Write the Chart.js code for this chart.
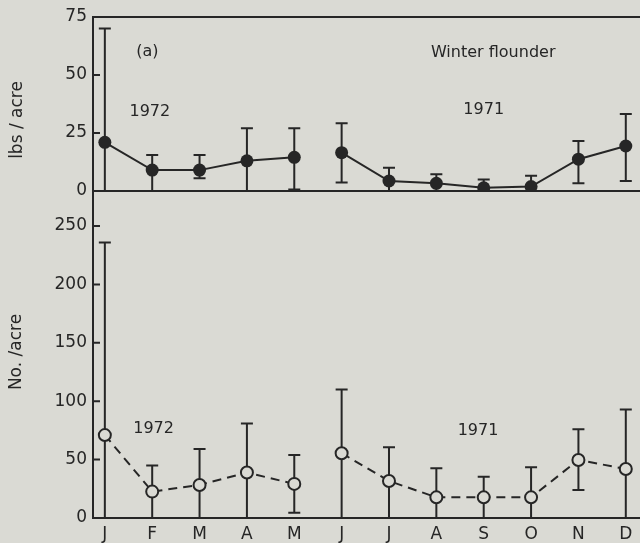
<!DOCTYPE html>
<html>
<head>
<meta charset="utf-8">
<script src="https://cdn.jsdelivr.net/npm/chart.js@4/dist/chart.umd.min.js"></script>
<style>
    body { margin: 0; background: #d9d9d3; }
    canvas { display: block; }
</style>
</head>
<body>
<canvas id="graficoLinguado" width="640" height="543"></canvas>
<script>
    // meses: 1972 vai de J a M, 1971 de J a D
    const meses = ['J', 'F', 'M', 'A', 'M', 'J', 'J', 'A', 'S', 'O', 'N', 'D'];
    const inicio1971 = 5;

    // lbs/acre (painel de cima)
    const lbs1972 = [21, 9, 9, 13, 14.5];
    const lbs1972Min = [0, 0, 5.5, 0, 0.7];
    const lbs1972Max = [70, 15.5, 15.5, 27, 27];
    const lbs1971 = [16.5, 4.3, 3.3, 1.4, 1.9, 13.7, 19.4];
    const lbs1971Min = [3.7, 0, 0, 0, 0, 3.3, 4.3];
    const lbs1971Max = [29.2, 10, 7.2, 5, 6.6, 21.5, 33.2];

    // No./acre (painel de baixo)
    const no1972 = [71, 22.6, 28.3, 38.9, 29.2];
    const no1972Min = [0, 0, 0, 0, 4.5];
    const no1972Max = [236, 45, 59, 81, 54];
    const no1971 = [55.5, 31.7, 17.7, 17.7, 17.7, 49.7, 42];
    const no1971Min = [0, 0, 0, 0, 0, 24, 0];
    const no1971Max = [110, 60.6, 42.6, 35.4, 43.5, 76, 93];

    const ticksLbs = [0, 25, 50, 75];
    const ticksNo = [0, 25, 50, 75, 100, 125, 150, 175, 200, 225, 250];

    const TINTA = '#262626';
    const FUNDO = '#dadad4';
    const FONTE = 'DejaVu Sans';

    function pontos(valores, desloc) {
        return valores.map((v, i) => ({ x: i + desloc, y: v }));
    }

    const fundoCanvas = {
        id: 'fundoCanvas',
        beforeDraw(chart) {
            const ctx = chart.ctx;
            ctx.save();
            ctx.fillStyle = FUNDO;
            ctx.fillRect(0, 0, chart.width, chart.height);
            ctx.restore();
        }
    };

    const barrasDeErro = {
        id: 'barrasDeErro',
        beforeDatasetsDraw(chart) {
            const ctx = chart.ctx;
            ctx.save();
            ctx.strokeStyle = TINTA;
            ctx.lineWidth = 2;
            chart.data.datasets.forEach((ds, i) => {
                const meta = chart.getDatasetMeta(i);
                const escala = chart.scales[ds.yAxisID];
                meta.data.forEach((pt, j) => {
                    const y1 = escala.getPixelForValue(ds.erroMin[j]);
                    const y2 = escala.getPixelForValue(ds.erroMax[j]);
                    ctx.beginPath();
                    ctx.moveTo(pt.x, y1); ctx.lineTo(pt.x, y2);
                    ctx.moveTo(pt.x - 6, y1); ctx.lineTo(pt.x + 6, y1);
                    ctx.moveTo(pt.x - 6, y2); ctx.lineTo(pt.x + 6, y2);
                    ctx.stroke();
                });
            });
            ctx.restore();
        }
    };

    const moldura = {
        id: 'moldura',
        afterDraw(chart) {
            const ctx = chart.ctx;
            const area = chart.chartArea;
            const yLbs = chart.scales.yLbs;
            ctx.save();
            ctx.strokeStyle = TINTA;
            ctx.lineWidth = 2;
            ctx.beginPath();
            ctx.moveTo(area.left, area.top); ctx.lineTo(area.right, area.top);
            ctx.moveTo(area.left, yLbs.bottom); ctx.lineTo(area.right, yLbs.bottom);
            // marcas dos ticks para dentro
            ['yLbs', 'yNo'].forEach(id => {
                const escala = chart.scales[id];
                escala.ticks.forEach(t => {
                    const y = escala.getPixelForValue(t.value);
                    ctx.moveTo(area.left, y); ctx.lineTo(area.left + 7, y);
                });
            });
            ctx.stroke();

            // textos
            ctx.fillStyle = TINTA;
            ctx.textAlign = 'center';
            ctx.textBaseline = 'middle';
            const xs = chart.scales.x;
            const yNo = chart.scales.yNo;
            const textos = [
                ['(a)', 0.9, 60, yLbs, 16],
                ['1972', 0.95, 34, yLbs, 16],
                ['Winter flounder', 8.2, 59.5, yLbs, 16],
                ['1971', 8.0, 35, yLbs, 16],
                ['1972', 1.03, 76, yNo, 16],
                ['1971', 7.88, 75, yNo, 16]
            ];
            textos.forEach(([txt, x, y, escala, tam]) => {
                ctx.font = tam + 'px "' + FONTE + '"';
                ctx.fillText(txt, xs.getPixelForValue(x), escala.getPixelForValue(y));
            });

            // titulos dos eixos
            ctx.font = '17px "' + FONTE + '"';
            [['lbs / acre', 18, 120], ['No. /acre', 17, 352]].forEach(([txt, x, y]) => {
                ctx.save();
                ctx.translate(x, y);
                ctx.rotate(-Math.PI / 2);
                ctx.fillText(txt, 0, 0);
                ctx.restore();
            });
            ctx.restore();
        }
    };

    function eixoY(min, max, valoresTicks, peso, rotulo) {
        return {
            type: 'linear',
            position: 'left',
            stack: 'painel',
            stackWeight: peso,
            min,
            max,
            afterBuildTicks: escala => { escala.ticks = valoresTicks.map(v => ({ value: v })); },
            afterFit: escala => { escala.width = 93; },
            grid: { display: false, drawTicks: false },
            border: { display: true, color: TINTA, width: 2 },
            ticks: {
                color: TINTA,
                padding: 6,
                font: { family: FONTE, size: 17 },
                callback: rotulo
            }
        };
    }

    const dsComum = {
        borderColor: TINTA,
        borderWidth: 2,
        tension: 0,
        pointBorderColor: TINTA
    };

    new Chart(document.getElementById('graficoLinguado'), {
        type: 'line',
        data: {
            datasets: [
                { ...dsComum, data: pontos(lbs1972, 0), erroMin: lbs1972Min, erroMax: lbs1972Max, yAxisID: 'yLbs',
                  pointRadius: 6.5, pointBackgroundColor: TINTA, pointBorderWidth: 0 },
                { ...dsComum, data: pontos(lbs1971, inicio1971), erroMin: lbs1971Min, erroMax: lbs1971Max, yAxisID: 'yLbs',
                  pointRadius: 6.5, pointBackgroundColor: TINTA, pointBorderWidth: 0 },
                { ...dsComum, data: pontos(no1972, 0), erroMin: no1972Min, erroMax: no1972Max, yAxisID: 'yNo',
                  borderDash: [9, 6], pointRadius: 6, pointBackgroundColor: FUNDO, pointBorderWidth: 2 },
                { ...dsComum, data: pontos(no1971, inicio1971), erroMin: no1971Min, erroMax: no1971Max, yAxisID: 'yNo',
                  borderDash: [9, 6], pointRadius: 6, pointBackgroundColor: FUNDO, pointBorderWidth: 2 }
            ]
        },
        options: {
            responsive: false,
            animation: false,
            devicePixelRatio: 1,
            layout: { autoPadding: false, padding: { top: 17, left: 0, right: 0, bottom: 0 } },
            plugins: { legend: { display: false }, tooltip: { enabled: false } },
            scales: {
                x: {
                    type: 'linear',
                    min: -0.25,
                    max: 11.3,
                    afterBuildTicks: escala => { escala.ticks = meses.map((m, i) => ({ value: i })); },
                    afterFit: escala => {
                        escala.height = 25;
                        escala.paddingLeft = 0;
                        escala.paddingRight = 0;
                    },
                    grid: { display: false, drawTicks: false },
                    border: { display: true, color: TINTA, width: 2 },
                    ticks: {
                        color: TINTA,
                        padding: 6,
                        maxRotation: 0,
                        autoSkip: false,
                        font: { family: FONTE, size: 17 },
                        callback: v => meses[v]
                    }
                },
                yNo: eixoY(0, 280, ticksNo, 327, v => (v % 50 === 0 ? v : '')),
                yLbs: eixoY(0, 75, ticksLbs, 174, v => v)
            }
        },
        plugins: [fundoCanvas, barrasDeErro, moldura]
    });
</script>
</body>
</html>
